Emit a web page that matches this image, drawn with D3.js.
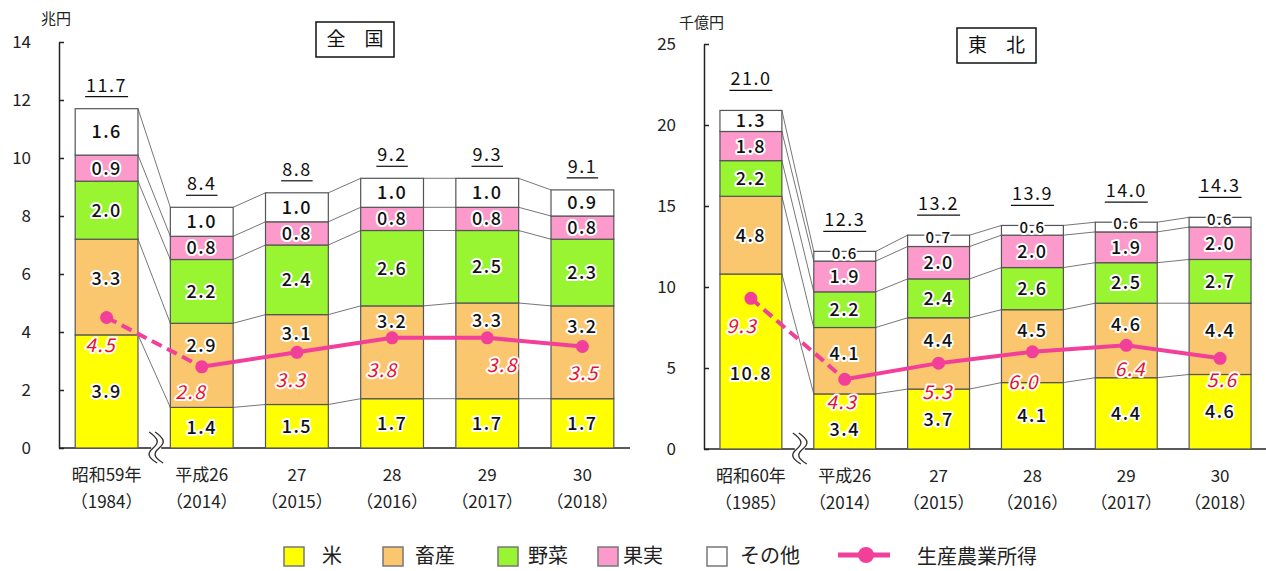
<!DOCTYPE html>
<html>
<head>
<meta charset="utf-8">
<script src="https://cdn.jsdelivr.net/npm/d3@7"></script>
<style>
  body { margin: 0; background: #fff; }
  svg { font-family: "Noto Sans CJK JP", "Noto Sans", sans-serif; }
  .halo { paint-order: stroke; stroke: #fff; stroke-linejoin: round; }
</style>
</head>
<body>
<div id="chart"></div>
<script>
// ---- data ----
var segNames = ["米", "畜産", "野菜", "果実", "その他"];
var segColors = ["#ffff00", "#fac66e", "#99f531", "#fb9acb", "#ffffff"];

// 全国 (兆円)
var natCats = ["昭和59年", "平成26", "27", "28", "29", "30"];
var natYears = ["（1984）", "（2014）", "（2015）", "（2016）", "（2017）", "（2018）"];
var natRice = [3.9, 1.4, 1.5, 1.7, 1.7, 1.7];
var natLivestock = [3.3, 2.9, 3.1, 3.2, 3.3, 3.2];
var natVeg = [2.0, 2.2, 2.4, 2.6, 2.5, 2.3];
var natFruit = [0.9, 0.8, 0.8, 0.8, 0.8, 0.8];
var natOther = [1.6, 1.0, 1.0, 1.0, 1.0, 0.9];
var natTotal = [11.7, 8.4, 8.8, 9.2, 9.3, 9.1];
var natIncome = [4.5, 2.8, 3.3, 3.8, 3.8, 3.5];
var natTicks = [0, 2, 4, 6, 8, 10, 12, 14];

// 東北 (千億円)
var tohCats = ["昭和60年", "平成26", "27", "28", "29", "30"];
var tohYears = ["（1985）", "（2014）", "（2015）", "（2016）", "（2017）", "（2018）"];
var tohRice = [10.8, 3.4, 3.7, 4.1, 4.4, 4.6];
var tohLivestock = [4.8, 4.1, 4.4, 4.5, 4.6, 4.4];
var tohVeg = [2.2, 2.2, 2.4, 2.6, 2.5, 2.7];
var tohFruit = [1.8, 1.9, 2.0, 2.0, 1.9, 2.0];
var tohOther = [1.3, 0.6, 0.7, 0.6, 0.6, 0.6];
var tohTotal = [21.0, 12.3, 13.2, 13.9, 14.0, 14.3];
var tohIncome = [9.3, 4.3, 5.3, 6.0, 6.4, 5.6];
var tohTicks = [0, 5, 10, 15, 20, 25];

var lineColor = "#f2409a";

var svg = d3.select("#chart").append("svg")
    .attr("width", 1266)
    .attr("height", 571);

function drawPanel(p) {
  var g = svg.append("g");
  var series = [p.rice, p.livestock, p.veg, p.fruit, p.other];

  var x = d3.scaleBand().domain(p.cats).range(p.xRange)
      .paddingInner(0.34).paddingOuter(0.17);
  var y = d3.scaleLinear().domain([0, p.max]).range(p.yRange);
  var bw = x.bandwidth();

  // stack the segments
  var stacks = p.cats.map(function(c, i) {
    var y0 = 0;
    return series.map(function(s, k) {
      var seg = {cat: c, i: i, k: k, v: s[i], y0: y0, y1: y0 + s[i]};
      y0 += s[i];
      return seg;
    });
  });

  // connector lines between neighbouring bars
  for (var i = 0; i < stacks.length - 1; i++) {
    stacks[i].forEach(function(seg, k) {
      g.append("line")
        .attr("x1", x(p.cats[i]) + bw).attr("y1", y(seg.y1))
        .attr("x2", x(p.cats[i + 1])).attr("y2", y(stacks[i + 1][k].y1))
        .attr("stroke", "#666").attr("stroke-width", 0.9);
    });
  }

  // y axis
  var yAxis = d3.axisLeft(y).tickValues(p.ticks).tickSizeInner(-5)
      .tickSizeOuter(0).tickPadding(28);
  var ya = g.append("g").attr("transform", "translate(" + p.xRange[0] + ",0)").call(yAxis);
  ya.select(".domain").attr("stroke", "#222").attr("stroke-width", 1.5);
  ya.selectAll(".tick line").attr("stroke", "#222").attr("stroke-width", 1.5);
  ya.selectAll(".tick text").attr("font-size", 17).attr("fill", "#222")
    .attr("font-family", "Noto Sans CJK JP");

  // x axis baseline
  g.append("line")
    .attr("x1", p.xRange[0]).attr("x2", p.xRange[1])
    .attr("y1", y(0)).attr("y2", y(0))
    .attr("stroke", "#222").attr("stroke-width", 1.5);

  // bars
  var flat = [].concat.apply([], stacks);
  g.selectAll("rect.seg").data(flat).enter().append("rect")
    .attr("class", "seg")
    .attr("x", function(d) { return x(d.cat); })
    .attr("width", bw)
    .attr("y", function(d) { return y(d.y1); })
    .attr("height", function(d) { return y(d.y0) - y(d.y1); })
    .attr("fill", function(d) { return segColors[d.k]; })
    .attr("stroke", "#555").attr("stroke-width", 1.2);

  var pts = p.income.map(function(v, i) { return [x(p.cats[i]) + bw / 2, y(v)]; });

  function thin(d) { return y(d.y0) - y(d.y1) < 14; }

  // segment labels (move out of the way of the income point and its label)
  g.selectAll("text.seglab").data(flat).enter().append("text")
    .attr("class", "seglab halo")
    .attr("x", function(d) { return x(d.cat) + bw / 2; })
    .attr("y", function(d) {
      var top = y(d.y1), bot = y(d.y0), py = pts[d.i][1];
      var ly = py + p.incDy[d.i];
      var cy = (top + bot) / 2;
      if (py > top && py < bot) {
        cy = (py - top > 28) ? (top + py) / 2 : (py + bot) / 2;
      } else if (ly > top && ly < bot && Math.abs(ly - cy) < 20) {
        cy = (ly + bot) / 2 + 4;
      }
      if (thin(d)) cy -= 3;
      return cy;
    })
    .attr("dy", "0.36em")
    .attr("text-anchor", "middle")
    .attr("font-size", function(d) { return thin(d) ? 15 : 18; })
    .attr("font-weight", 500)
    .attr("letter-spacing", 1.5)
    .attr("stroke-width", 4)
    .attr("fill", "#111")
    .text(function(d) { return d.v.toFixed(1); });

  // totals (underlined)
  stacks.forEach(function(st, i) {
    var top = y(st[st.length - 1].y1);
    var cx = x(p.cats[i]) + bw / 2;
    var t = g.append("text")
      .attr("class", "halo")
      .attr("x", cx).attr("y", top - p.totalGap)
      .attr("text-anchor", "middle")
      .attr("font-size", 18).attr("letter-spacing", 1.5)
      .attr("stroke-width", 3)
      .attr("fill", "#111")
      .text(p.total[i].toFixed(1));
    var w = t.node().getComputedTextLength();
    g.append("line")
      .attr("x1", cx - w / 2 - 1).attr("x2", cx + w / 2 + 1)
      .attr("y1", top - p.totalGap + 5).attr("y2", top - p.totalGap + 5)
      .attr("stroke", "#111").attr("stroke-width", 1.2);
  });

  // income line: dashed first segment, solid after
  var line = d3.line();
  g.append("path").attr("d", line(pts.slice(0, 2)))
    .attr("fill", "none").attr("stroke", lineColor).attr("stroke-width", 4)
    .attr("stroke-dasharray", "11,6");
  g.append("path").attr("d", line(pts.slice(1)))
    .attr("fill", "none").attr("stroke", lineColor).attr("stroke-width", 4);
  g.selectAll("circle.pt").data(pts).enter().append("circle")
    .attr("class", "pt")
    .attr("cx", function(d) { return d[0]; })
    .attr("cy", function(d) { return d[1]; })
    .attr("r", 6.5).attr("fill", lineColor);

  // income labels
  g.selectAll("text.inc").data(p.income).enter().append("text")
    .attr("class", "inc halo")
    .attr("x", function(d, i) { return pts[i][0] + p.incDx[i]; })
    .attr("y", function(d, i) { return pts[i][1] + p.incDy[i]; })
    .attr("dy", "0.36em")
    .attr("text-anchor", "middle")
    .attr("font-size", 19).attr("font-style", "italic")
    .attr("letter-spacing", 1.5)
    .attr("stroke-width", 4)
    .attr("fill", "#e8102e")
    .text(function(d) { return d.toFixed(1); });

  // category labels
  p.cats.forEach(function(c, i) {
    var cx = x(c) + bw / 2;
    g.append("text").attr("x", cx).attr("y", y(0) + 33)
      .attr("text-anchor", "middle").attr("font-size", 17).attr("fill", "#222")
      .text(c);
    g.append("text").attr("x", cx).attr("y", y(0) + 60)
      .attr("text-anchor", "middle").attr("font-size", 17).attr("fill", "#222")
      .text(p.years[i]);
  });

  // axis break mark between first and second bar
  var bx = (x(p.cats[0]) + bw + x(p.cats[1])) / 2 + 2;
  var by = y(0);
  g.append("rect").attr("x", bx - 5).attr("y", by - 3).attr("width", 10).attr("height", 6)
    .attr("fill", "#fff");
  [-3, 3].forEach(function(o) {
    var cx = bx + o;
    g.append("path")
      .attr("d", "M" + (cx - 4) + "," + (by - 16) +
        " C" + (cx + 6) + "," + (by - 9) + " " + (cx + 6) + "," + (by - 5) + " " + cx + "," + by +
        " C" + (cx - 6) + "," + (by + 5) + " " + (cx - 6) + "," + (by + 9) + " " + (cx + 4) + "," + (by + 15))
      .attr("fill", "none").attr("stroke", "#333").attr("stroke-width", 1.4);
  });

  // unit
  g.append("text").attr("x", p.unitX).attr("y", p.unitY)
    .attr("font-size", 15).attr("fill", "#222").text(p.unit);

  // title box
  g.append("rect").attr("x", p.box[0]).attr("y", p.box[1])
    .attr("width", p.box[2]).attr("height", p.box[3])
    .attr("fill", "#fff").attr("stroke", "#111").attr("stroke-width", 1.5);
  g.append("text").attr("x", p.box[0] + p.box[2] / 2).attr("y", p.box[1] + p.box[3] / 2)
    .attr("dy", "0.36em").attr("text-anchor", "middle")
    .attr("font-size", 19).attr("fill", "#111").text(p.title);
}

drawPanel({
  cats: natCats, years: natYears,
  rice: natRice, livestock: natLivestock, veg: natVeg, fruit: natFruit, other: natOther,
  total: natTotal, income: natIncome, ticks: natTicks, max: 14,
  xRange: [59, 630], yRange: [448, 42], totalGap: 17,
  incDx: [-6, -11, -6, -10, 15, 1], incDy: [28, 25, 28, 32, 27, 27],
  unit: "兆円", unitX: 41, unitY: 24,
  box: [316, 22, 78, 35], title: "全　国"
});

drawPanel({
  cats: tohCats, years: tohYears,
  rice: tohRice, livestock: tohLivestock, veg: tohVeg, fruit: tohFruit, other: tohOther,
  total: tohTotal, income: tohIncome, ticks: tohTicks, max: 25,
  xRange: [704, 1267], yRange: [449, 44], totalGap: 25,
  incDx: [-9, -3, -1, -9, 4, 2], incDy: [28, 23, 29, 30, 24, 22],
  unit: "千億円", unitX: 679, unitY: 28,
  box: [957, 28, 79, 35], title: "東　北"
});

// legend
var legX = [284, 383, 498, 598, 707];
var legTextX = [322, 415, 528, 623, 740];
var leg = svg.append("g");
segNames.forEach(function(n, k) {
  leg.append("rect").attr("x", legX[k]).attr("y", 547).attr("width", 20).attr("height", 19)
    .attr("fill", segColors[k]).attr("stroke", "#777").attr("stroke-width", 1.5);
  leg.append("text").attr("x", legTextX[k]).attr("y", 556).attr("dy", "0.36em")
    .attr("font-size", 20).attr("fill", "#222").text(n);
});
leg.append("line").attr("x1", 838).attr("x2", 890).attr("y1", 555).attr("y2", 555)
  .attr("stroke", lineColor).attr("stroke-width", 5);
leg.append("circle").attr("cx", 866).attr("cy", 555).attr("r", 8).attr("fill", lineColor);
leg.append("text").attr("x", 917).attr("y", 557).attr("dy", "0.36em")
  .attr("font-size", 20).attr("fill", "#222").text("生産農業所得");
</script>
</body>
</html>
